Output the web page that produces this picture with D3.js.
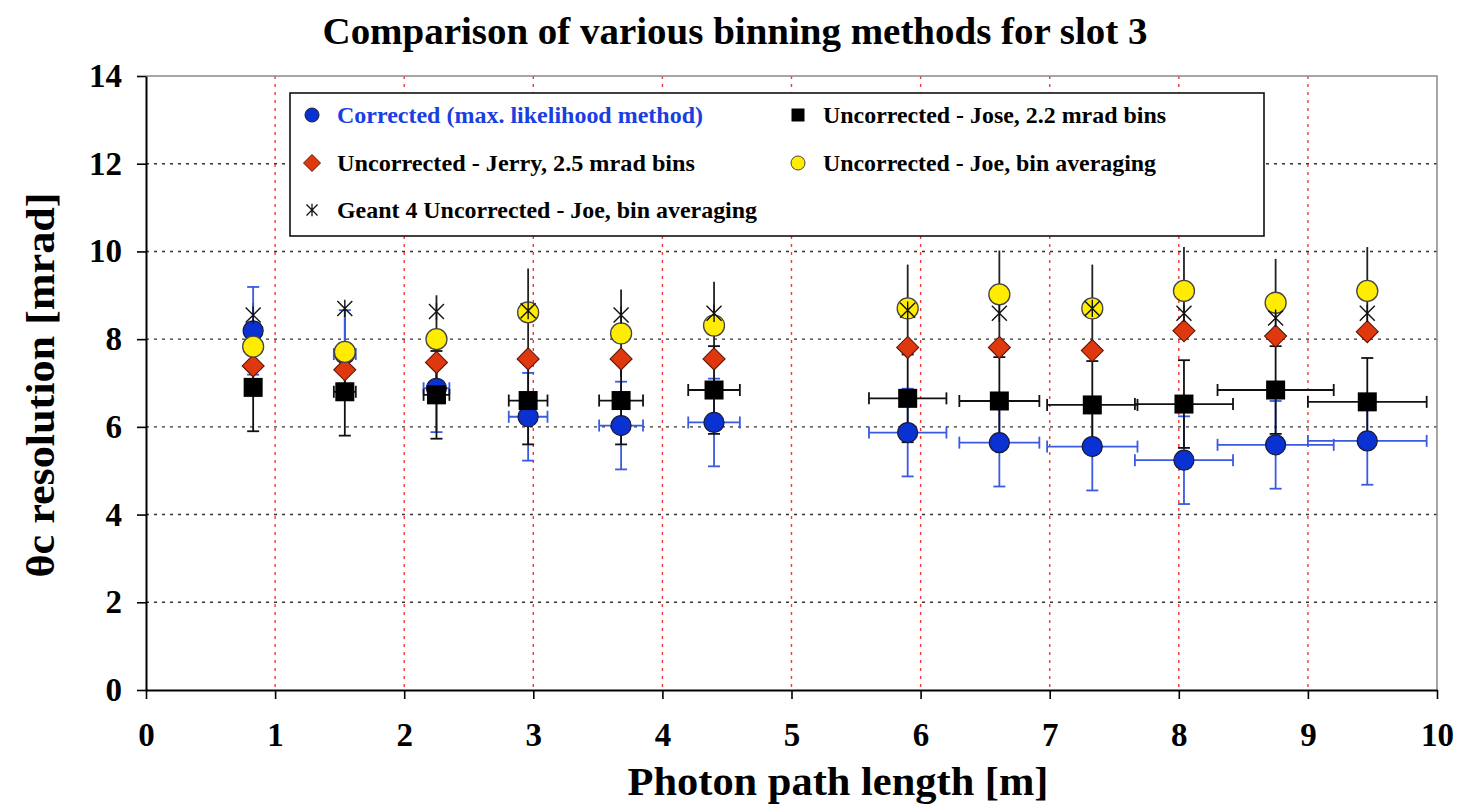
<!DOCTYPE html>
<html>
<head>
<meta charset="utf-8">
<script src="https://cdn.jsdelivr.net/npm/d3@7"></script>
<style>
  body { margin: 0; background: #fff; }
  text { font-family: "Liberation Serif", "DejaVu Serif Condensed", "DejaVu Serif", serif; font-weight: bold; }
</style>
</head>
<body>
<div id="chart"></div>
<script>
// photon path length bins (m) and their half widths
const pathLength = [0.83, 1.54, 2.25, 2.96, 3.68, 4.40, 5.90, 6.61, 7.33, 8.04, 8.75, 9.46];
const pathErr    = [0.05, 0.085, 0.10, 0.15, 0.17, 0.20, 0.30, 0.31, 0.35, 0.38, 0.45, 0.46];

// resolution values (mrad)
const corrected    = [8.19, 7.66, 6.88, 6.23, 6.03, 6.10, 5.87, 5.64, 5.55, 5.24, 5.59, 5.68];
const correctedErr = [1.0, 1.0, 1.0, 1.0, 1.0, 1.0, 1.0, 1.0, 1.0, 1.0, 1.0, 1.0];
const jose         = [6.90, 6.80, 6.73, 6.60, 6.60, 6.84, 6.65, 6.59, 6.50, 6.52, 6.84, 6.57];
const joseErr      = [1.0, 1.0, 1.0, 1.0, 1.0, 1.0, 1.0, 1.0, 1.0, 1.0, 1.0, 1.0];
const jerry        = [7.39, 7.30, 7.47, 7.55, 7.55, 7.55, 7.81, 7.81, 7.74, 8.19, 8.07, 8.17];
const joe          = [7.83, 7.71, 8.00, 8.61, 8.13, 8.31, 8.70, 9.02, 8.70, 9.10, 8.83, 9.10];
const joeErr       = [1.0, 1.0, 1.0, 1.0, 1.0, 1.0, 1.0, 1.0, 1.0, 1.0, 1.0, 1.0];
const geant        = [8.55, 8.70, 8.63, 8.65, 8.55, 8.59, 8.66, 8.59, 8.70, 8.59, 8.48, 8.59];

const xTicks = [0, 1, 2, 3, 4, 5, 6, 7, 8, 9, 10];
const yTicks = [0, 2, 4, 6, 8, 10, 12, 14];

const legendLabels = [
  "Corrected (max. likelihood method)",
  "Uncorrected - Jose, 2.2 mrad bins",
  "Uncorrected - Jerry, 2.5 mrad bins",
  "Uncorrected - Joe, bin averaging",
  "Geant 4 Uncorrected - Joe, bin averaging"
];

const FONT = "'Liberation Serif', 'DejaVu Serif Condensed', 'DejaVu Serif', serif";

const W = 1461, H = 806;
const margin = { top: 76, right: 24, bottom: 116, left: 146 };
const width = W - margin.left - margin.right,
      height = H - margin.top - margin.bottom;

const svg = d3.select("#chart").append("svg")
  .attr("width", W)
  .attr("height", H);

const g = svg.append("g")
  .attr("transform", `translate(${margin.left},${margin.top})`);

const x = d3.scaleLinear().domain([0, 10]).range([0, width]);
const y = d3.scaleLinear().domain([0, 14]).range([height, 0]);

const BLUE = "#0a32d2", BLUE_ERR = "#3a5ae0", RED = "#e0380e", YELLOW = "#ffec00";

// grid lines
g.selectAll(".ygrid")
  .data(yTicks.filter(d => d > 0 && d < 14))
  .enter().append("line")
  .attr("x1", 0).attr("x2", width)
  .attr("y1", d => y(d)).attr("y2", d => y(d))
  .attr("stroke", "#333").attr("stroke-width", 1.4)
  .attr("stroke-dasharray", "3,5");

g.selectAll(".xgrid")
  .data(xTicks.filter(d => d > 0 && d < 10))
  .enter().append("line")
  .attr("y1", 0).attr("y2", height)
  .attr("x1", d => x(d)).attr("x2", d => x(d))
  .attr("stroke", "#f03a3a").attr("stroke-width", 1.4)
  .attr("stroke-dasharray", "3,5");

// plot frame (top and right)
g.append("path")
  .attr("d", `M0,0H${width}V${height}`)
  .attr("fill", "none").attr("stroke", "#8a8a8a").attr("stroke-width", 1.5);

// axes
const yAxis = g.append("g")
  .call(d3.axisLeft(y).tickValues(yTicks).tickSize(9).tickPadding(15).tickSizeOuter(0));
const xAxis = g.append("g")
  .attr("transform", `translate(0,${height})`)
  .call(d3.axisBottom(x).tickValues(xTicks).tickSize(9).tickPadding(24).tickSizeOuter(0));

[xAxis, yAxis].forEach(a => {
  a.attr("font-family", null);
  a.select(".domain").attr("stroke", "#000").attr("stroke-width", 2);
  a.selectAll(".tick line").attr("stroke", "#000").attr("stroke-width", 1.6);
  a.selectAll(".tick text")
    .attr("fill", "#000")
    .style("font-family", FONT)
    .style("font-weight", "bold")
    .style("font-size", "33px");
});

// rows of points
const rows = pathLength.map((p, i) => ({
  x: p, xe: pathErr[i],
  c: corrected[i], ce: correctedErr[i],
  s: jose[i], se: joseErr[i],
  r: jerry[i],
  j: joe[i], je: joeErr[i],
  gt: geant[i]
}));

const errs = g.append("g");
const cap = 6;

function vBar(sel, key, errKey, color, caps) {
  sel.each(function(d) {
    const gg = d3.select(this);
    const cx = x(d.x), y0 = y(d[key] - d[errKey]), y1 = y(d[key] + d[errKey]);
    gg.append("line").attr("x1", cx).attr("x2", cx).attr("y1", y0).attr("y2", y1)
      .attr("stroke", color).attr("stroke-width", 1.8);
    if (caps) {
      [y0, y1].forEach(yy => gg.append("line")
        .attr("x1", cx - cap).attr("x2", cx + cap).attr("y1", yy).attr("y2", yy)
        .attr("stroke", color).attr("stroke-width", 1.8));
    }
  });
}

function hBar(sel, key, color) {
  sel.each(function(d) {
    const gg = d3.select(this);
    const cy = y(d[key]), x0 = x(d.x - d.xe), x1 = x(d.x + d.xe);
    gg.append("line").attr("x1", x0).attr("x2", x1).attr("y1", cy).attr("y2", cy)
      .attr("stroke", color).attr("stroke-width", 1.8);
    [x0, x1].forEach(xx => gg.append("line")
      .attr("x1", xx).attr("x2", xx).attr("y1", cy - cap).attr("y2", cy + cap)
      .attr("stroke", color).attr("stroke-width", 1.8));
  });
}

const eb = errs.selectAll(".eb").data(rows).enter().append("g");
vBar(eb, "j", "je", "#222", false);
vBar(eb, "c", "ce", BLUE_ERR, true);
hBar(eb, "c", BLUE_ERR);
vBar(eb, "s", "se", "#111", true);
hBar(eb, "s", "#111");

// marker shapes
const diamondPath = h => `M0,${-h}L${h},0L0,${h}L${-h},0Z`;
const starPath = h => `M${-h},${-h}L${h},${h}M${-h},${h}L${h},${-h}M0,${-h * 1.15}V${h * 1.15}`;

const marks = g.append("g");

marks.selectAll(".corr").data(rows).enter().append("circle")
  .attr("cx", d => x(d.x)).attr("cy", d => y(d.c)).attr("r", 10)
  .attr("fill", BLUE).attr("stroke", "#1a1a3a").attr("stroke-width", 1.2);

marks.selectAll(".jose").data(rows).enter().append("rect")
  .attr("x", d => x(d.x) - 9.5).attr("y", d => y(d.s) - 9.5)
  .attr("width", 19).attr("height", 19).attr("fill", "#000");

marks.selectAll(".jerry").data(rows).enter().append("path")
  .attr("transform", d => `translate(${x(d.x)},${y(d.r)})`)
  .attr("d", diamondPath(11))
  .attr("fill", RED).attr("stroke", "#5a1808").attr("stroke-width", 1.1);

marks.selectAll(".joe").data(rows).enter().append("circle")
  .attr("cx", d => x(d.x)).attr("cy", d => y(d.j)).attr("r", 10.5)
  .attr("fill", YELLOW).attr("stroke", "#444").attr("stroke-width", 1.3);

marks.selectAll(".geant").data(rows).enter().append("path")
  .attr("transform", d => `translate(${x(d.x)},${y(d.gt)})`)
  .attr("d", starPath(7.5))
  .attr("fill", "none").attr("stroke", "#111").attr("stroke-width", 1.4);

// legend
const lg = svg.append("g");
lg.append("rect")
  .attr("x", 290).attr("y", 93).attr("width", 974).attr("height", 143)
  .attr("fill", "#fff").attr("stroke", "#111").attr("stroke-width", 1.6);

const legendPos = [
  { mx: 312, ty: 115, w: 366 }, { mx: 798, ty: 115, w: 343 },
  { mx: 312, ty: 163, w: 358 }, { mx: 798, ty: 163, w: 333 },
  { mx: 312, ty: 210, w: 420 }
];
const legendMarks = [
  s => s.append("circle").attr("r", 7).attr("fill", BLUE).attr("stroke", "#1a1a3a").attr("stroke-width", 1),
  s => s.append("rect").attr("x", -6.5).attr("y", -6.5).attr("width", 13).attr("height", 13).attr("fill", "#000"),
  s => s.append("path").attr("d", diamondPath(8.5)).attr("fill", RED).attr("stroke", "#5a1808").attr("stroke-width", 1),
  s => s.append("circle").attr("r", 7).attr("fill", YELLOW).attr("stroke", "#444").attr("stroke-width", 1),
  s => s.append("path").attr("d", starPath(5.5)).attr("fill", "none").attr("stroke", "#111").attr("stroke-width", 1.3)
];

legendLabels.forEach((label, i) => {
  const p = legendPos[i];
  const m = lg.append("g").attr("transform", `translate(${p.mx},${p.ty})`);
  legendMarks[i](m);
  lg.append("text")
    .attr("x", p.mx + 25).attr("y", p.ty)
    .attr("dy", "0.35em")
    .attr("textLength", p.w)
    .attr("lengthAdjust", "spacingAndGlyphs")
    .style("font-size", "24px")
    .attr("fill", i === 0 ? "#1a3ee0" : "#000")
    .text(label);
});

// titles
svg.append("text")
  .attr("x", 735).attr("y", 44)
  .attr("text-anchor", "middle")
  .attr("textLength", 825)
  .attr("lengthAdjust", "spacingAndGlyphs")
  .style("font-size", "38px")
  .text("Comparison of various binning methods for slot 3");

svg.append("text")
  .attr("x", 838).attr("y", 795)
  .attr("text-anchor", "middle")
  .attr("textLength", 421)
  .attr("lengthAdjust", "spacingAndGlyphs")
  .style("font-size", "41px")
  .text("Photon path length [m]");

svg.append("text")
  .attr("transform", "translate(54,385) rotate(-90)")
  .attr("text-anchor", "middle")
  .attr("textLength", 385)
  .attr("lengthAdjust", "spacingAndGlyphs")
  .style("font-size", "40px")
  .text("θc  resolution [mrad]");
</script>
</body>
</html>
